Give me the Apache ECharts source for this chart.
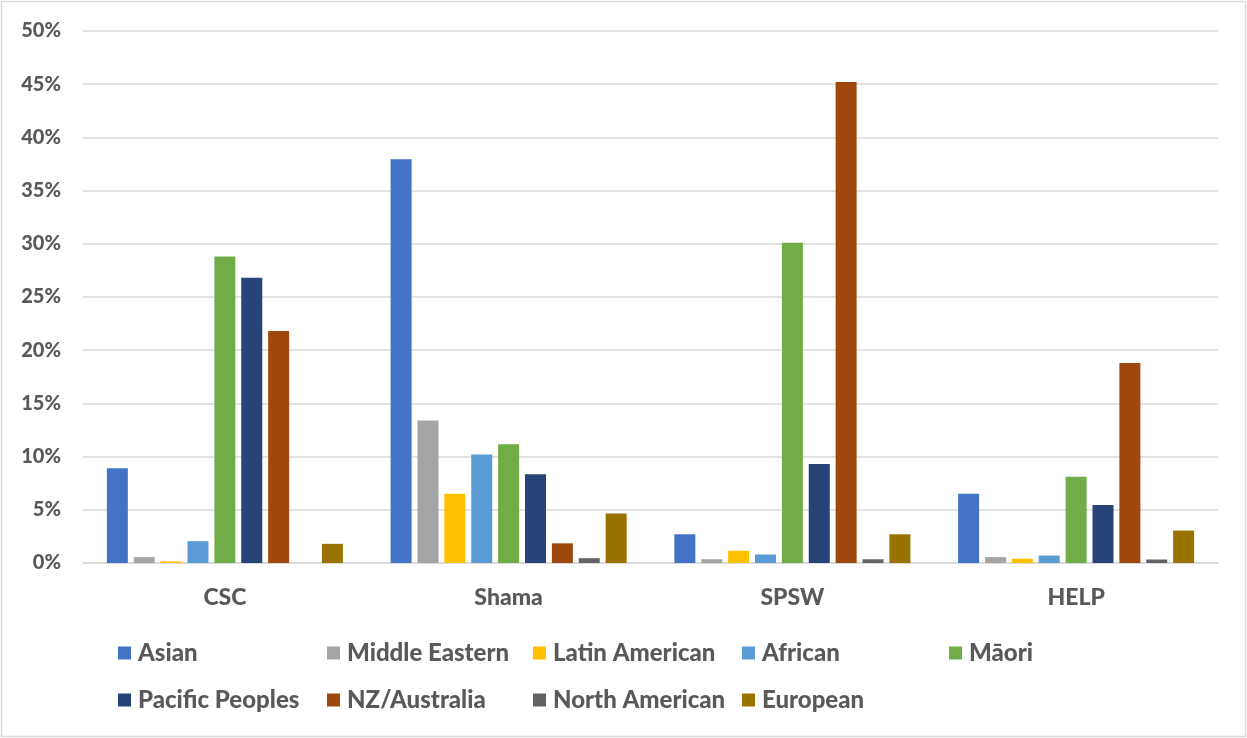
<!DOCTYPE html>
<html>
<head>
<meta charset="utf-8">
<script src="https://cdn.jsdelivr.net/npm/echarts@6/dist/echarts.min.js"></script>
<style>
  html, body { margin: 0; padding: 0; background: #fff; }
  #chart { width: 1247px; height: 738px; }
</style>
</head>
<body>
<div id="chart"></div>
<script>
// Share of clients by ethnic group for each service (%)
const categories = ['CSC', 'Shama', 'SPSW', 'HELP'];
const yTicks = [0, 5, 10, 15, 20, 25, 30, 35, 40, 45, 50];

const asian         = [8.9, 37.95, 2.7, 6.5];
const middleEastern = [0.55, 13.4, 0.35, 0.55];
const latinAmerican = [0.15, 6.5, 1.15, 0.4];
const african       = [2.05, 10.2, 0.8, 0.7];
const maori         = [28.8, 11.15, 30.1, 8.1];
const pacificPeoples = [26.8, 8.35, 9.3, 5.45];
const nzAustralia   = [21.8, 1.85, 45.2, 18.8];
const northAmerican = [0, 0.45, 0.35, 0.33];
const european      = [1.8, 4.65, 2.7, 3.05];

const seriesNames = ['Asian', 'Middle Eastern', 'Latin American', 'African', 'Māori',
                     'Pacific Peoples', 'NZ/Australia', 'North American', 'European'];
const seriesValues = [asian, middleEastern, latinAmerican, african, maori,
                      pacificPeoples, nzAustralia, northAmerican, european];
const seriesColors = ['#4472C4', '#A5A5A5', '#FFC000', '#5B9BD5', '#70AD47',
                      '#264478', '#9E480E', '#636363', '#997300'];

const FONT = 'Lato';
const WEIGHT = 900;
const TEXT = '#595959';
const GRID = '#d9d9d9';

const chart = echarts.init(document.getElementById('chart'), null, { renderer: 'canvas' });

// legend laid out in two rows of fixed columns
const legendCols = [118, 327, 533, 742, 949];
const legendRows = [641, 688];
const legends = seriesNames.map((name, i) => {
  const row = i < 5 ? 0 : 1;
  const col = i < 5 ? i : i - 5;
  return {
    data: [name],
    left: legendCols[col],
    top: legendRows[row],
    itemWidth: 13,
    itemHeight: 13,
    icon: 'rect',
    padding: 0,
    selectedMode: false,
    textStyle: { color: TEXT, fontFamily: FONT, fontWeight: WEIGHT, fontSize: 24, padding: [0, 0, 0, 2] }
  };
});

const series = seriesNames.map((name, i) => ({
  name: name,
  type: 'bar',
  data: seriesValues[i],
  barWidth: 21,
  barGap: '28%',
  itemStyle: { color: seriesColors[i] },
  emphasis: { disabled: true }
}));

chart.setOption({
  animation: false,
  backgroundColor: '#fff',
  grid: { left: 83, right: 29, top: 31, bottom: 175, containLabel: false },
  legend: legends,
  xAxis: {
    type: 'category',
    data: categories,
    axisLine: { show: true, lineStyle: { color: GRID, width: 1.5 } },
    axisTick: { show: false },
    axisLabel: { color: TEXT, fontFamily: FONT, fontWeight: WEIGHT, fontSize: 23, margin: 23 }
  },
  yAxis: {
    type: 'value',
    min: yTicks[0],
    max: yTicks[yTicks.length - 1],
    interval: yTicks[1] - yTicks[0],
    axisLine: { show: false },
    axisTick: { show: false },
    splitLine: { lineStyle: { color: GRID, width: 1.5 } },
    axisLabel: { color: TEXT, fontFamily: FONT, fontWeight: WEIGHT, fontSize: 20, margin: 22,
                 formatter: '{value}%' }
  },
  graphic: [{
    type: 'rect',
    shape: { x: 1.5, y: 1.5, width: 1244, height: 735 },
    style: { fill: 'none', stroke: GRID, lineWidth: 1.5 },
    silent: true
  }],
  series: series
});
</script>
</body>
</html>
